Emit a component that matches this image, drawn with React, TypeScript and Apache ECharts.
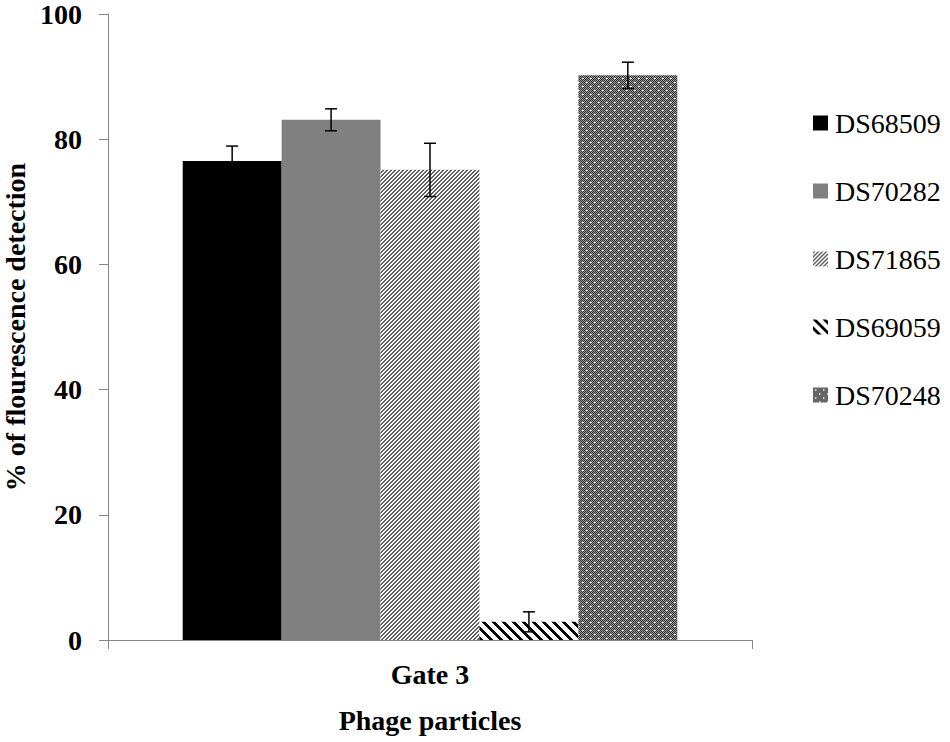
import React, { useEffect, useRef } from "react";
import * as echarts from "echarts";

const categories = ["Gate 3"];
const seriesNames = ["DS68509", "DS70282", "DS71865", "DS69059", "DS70248"];
const values = [76.5, 83.1, 75.1, 2.9, 90.2];
const errors = [2.4, 1.75, 4.25, 1.6, 2.1];
const yMin = 0;
const yMax = 100;
const yInterval = 20;

const FONT = "Liberation Serif, Times New Roman, serif";
const AXIS_COLOR = "#868686";
const CATEGORY_GAP = 0.232;

function makeTile(w: number, h: number, fn: (x: number, y: number) => string) {
  const c = document.createElement("canvas");
  c.width = w;
  c.height = h;
  const ctx = c.getContext("2d")!;
  for (let y = 0; y < h; y++) {
    for (let x = 0; x < w; x++) {
      ctx.fillStyle = fn(x, y);
      ctx.fillRect(x, y, 1, 1);
    }
  }
  return { image: c, repeat: "repeat", imageWidth: w, imageHeight: h };
}

export default function App() {
  const ref = useRef<HTMLDivElement>(null);
  useEffect(() => {
    if (!ref.current) return;
    const chart = echarts.init(ref.current, null, { renderer: "svg" });

    const fineStripes = makeTile(4, 4, (x, y) => ((x + y) % 4 < 2 ? "#5e5e5e" : "#ffffff"));
    const wideStripes = makeTile(10, 10, (x, y) => ((((x - y) % 10) + 10) % 10 < 4 ? "#000000" : "#ffffff"));
    const dotted = makeTile(8, 8, (x, y) => {
      if ((x === 2 && y === 2) || (x === 3 && y === 2) || (x === 6 && y === 6) || (x === 7 && y === 6)) return "#ffffff";
      return (x + y) % 2 === 0 ? "#2a2a2a" : "#a0a0a0";
    });
    const fills: any[] = ["#000000", "#808080", fineStripes, wideStripes, dotted];

    const barSeries = seriesNames.map((name, i) => ({
      name,
      type: "bar",
      data: [values[i]],
      barGap: "0%",
      barCategoryGap: CATEGORY_GAP * 100 + "%",
      itemStyle: { color: fills[i] },
      z: 2,
    }));

    const errData = values.map((v, i) => [0, v - errors[i], v + errors[i], i]);

    const option: any = {
      animation: false,
      backgroundColor: "#ffffff",
      textStyle: { fontFamily: FONT },
      grid: {
        left: 108,
        right: 198,
        top: 14,
        bottom: 102,
        containLabel: false,
        outerBoundsMode: "none",
      },
      legend: {
        data: seriesNames,
        orient: "vertical",
        left: 813,
        top: 109,
        padding: 0,
        itemWidth: 15,
        itemHeight: 15,
        itemGap: 40,
        icon: "rect",
        textStyle: { fontFamily: FONT, fontSize: 28, fontWeight: "normal", color: "#000", lineHeight: 28, padding: [0, 0, 0, 2] },
      },
      xAxis: {
        type: "category",
        data: categories,
        name: "Phage particles",
        nameLocation: "middle",
        nameGap: 66,
        nameTextStyle: { fontFamily: FONT, fontSize: 28, fontWeight: "bold", color: "#000" },
        axisLine: { show: true, lineStyle: { color: AXIS_COLOR, width: 1 } },
        axisTick: { show: true, alignWithLabel: false, length: 9, lineStyle: { color: AXIS_COLOR } },
        axisLabel: { fontFamily: FONT, fontSize: 28, fontWeight: "bold", color: "#000", margin: 20 },
        splitLine: { show: false },
      },
      yAxis: {
        type: "value",
        min: yMin,
        max: yMax,
        interval: yInterval,
        name: "% of flourescence detection",
        nameLocation: "middle",
        nameGap: 78,
        nameTextStyle: { fontFamily: FONT, fontSize: 28, fontWeight: "bold", color: "#000" },
        axisLine: { show: true, lineStyle: { color: AXIS_COLOR, width: 1 } },
        axisTick: { show: true, inside: false, length: 9, lineStyle: { color: AXIS_COLOR } },
        axisLabel: { fontFamily: FONT, fontSize: 28, fontWeight: "bold", color: "#000", margin: 26, lineHeight: 26 },
        splitLine: { show: false },
      },
      series: [
        ...barSeries,
        {
          name: "error",
          type: "custom",
          data: errData,
          encode: { x: 0, y: [1, 2] },
          z: 10,
          renderItem: (params: any, api: any) => {
            const idx = api.value(3);
            const center = api.coord([api.value(0), 0])[0];
            const band = api.size([1, 0])[0];
            const barW = (band * (1 - CATEGORY_GAP)) / seriesNames.length;
            const x = center + (idx - (seriesNames.length - 1) / 2) * barW;
            const yLo = api.coord([0, api.value(1)])[1];
            const yHi = api.coord([0, api.value(2)])[1];
            const cap = 6;
            const style = { stroke: "#000", lineWidth: 1.5 };
            return {
              type: "group",
              children: [
                { type: "line", shape: { x1: x, y1: yHi, x2: x, y2: yLo }, style },
                { type: "line", shape: { x1: x - cap, y1: yHi, x2: x + cap, y2: yHi }, style },
                { type: "line", shape: { x1: x - cap, y1: yLo, x2: x + cap, y2: yLo }, style },
              ],
            };
          },
        },
      ],
    };
    chart.setOption(option);
    return () => chart.dispose();
  }, []);

  return (
    <div
      ref={ref}
      style={{ position: "fixed", left: 0, top: 0, width: 950, height: 742, background: "#fff" }}
    />
  );
}
